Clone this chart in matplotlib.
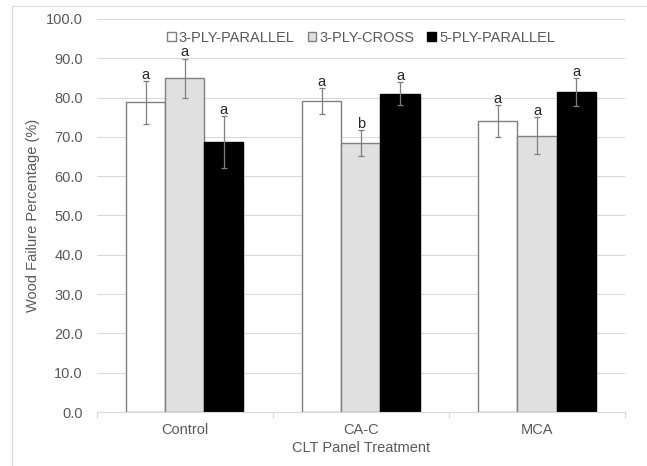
import numpy as np
import matplotlib.pyplot as plt
from matplotlib.lines import Line2D

plt.rcParams['font.family'] = ['Liberation Sans', 'DejaVu Sans']

# data
treatments = ['Control', 'CA-C', 'MCA']
series = ['3-PLY-PARALLEL', '3-PLY-CROSS', '5-PLY-PARALLEL']
ply3_parallel = [78.8, 79.1, 74.1]
ply3_cross = [84.9, 68.4, 70.3]
ply5_parallel = [68.7, 81.0, 81.4]
err_ply3_parallel = [5.4, 3.3, 4.0]
err_ply3_cross = [5.0, 3.3, 4.7]
err_ply5_parallel = [6.6, 2.9, 3.6]
letters_ply3_parallel = ['a', 'a', 'a']
letters_ply3_cross = ['a', 'b', 'a']
letters_ply5_parallel = ['a', 'a', 'a']

values = [ply3_parallel, ply3_cross, ply5_parallel]
errors = [err_ply3_parallel, err_ply3_cross, err_ply5_parallel]
letters = [letters_ply3_parallel, letters_ply3_cross, letters_ply5_parallel]
faces = ['white', '#e0e0e0', 'black']
edges = ['#7f7f7f', '#7f7f7f', 'black']

txt = '#595959'
grid = '#d9d9d9'
fs = 10.5

fig = plt.figure(figsize=(6.47, 4.66), dpi=100)
ax = fig.add_axes([96.7 / 647, 54 / 466, (625 - 96.7) / 647, (412 - 19) / 466])

x = np.arange(len(treatments))
w = 1 / 4.5
for i in range(3):
    pos = x + (i - 1) * w
    ax.bar(pos, values[i], w, color=faces[i], edgecolor=edges[i], linewidth=1, zorder=2,
           label=series[i])
    ax.errorbar(pos, values[i], yerr=errors[i], fmt='none', ecolor='#7f7f7f',
                elinewidth=0.9, capsize=2, capthick=0.9, zorder=3)
    for p, v, e, l in zip(pos, values[i], errors[i], letters[i]):
        ax.text(p, v + e + 0.6, l, ha='center', va='baseline', fontsize=fs, color='#262626')

ax.set_xlim(-0.5, 2.5)
ax.set_ylim(0, 100)
ax.set_yticks(np.arange(0, 101, 10))
ax.set_yticklabels(['%.1f' % t for t in np.arange(0, 101, 10)])
ax.yaxis.grid(True, color=grid, linewidth=0.8, zorder=0)
ax.set_axisbelow(True)

ax.set_xticks(x)
ax.set_xticklabels(treatments)
ax.set_xticks([-0.5, 0.5, 1.5, 2.5], minor=True)
ax.tick_params(axis='x', which='major', length=0, pad=8, labelsize=fs, labelcolor=txt)
ax.tick_params(axis='x', which='minor', length=4, color=grid, width=0.8)
ax.tick_params(axis='y', length=0, pad=10, labelsize=fs, labelcolor=txt)

for s in ['top', 'right', 'left']:
    ax.spines[s].set_visible(False)
ax.spines['bottom'].set_color(grid)
ax.spines['bottom'].set_linewidth(0.8)

ax.set_xlabel('CLT Panel Treatment', fontsize=fs, color=txt, labelpad=3)
ax.set_ylabel('Wood Failure Percentage (%)', fontsize=fs, color=txt, labelpad=4)

leg = ax.legend(loc='upper center', bbox_to_anchor=(0.5, 1.0), ncol=3, frameon=False,
                fontsize=fs, handlelength=0.6, handleheight=0.6, handletextpad=0.2,
                columnspacing=0.9, borderaxespad=0.4)
for t in leg.get_texts():
    t.set_color(txt)

# light chart border like the Excel chart area
fig.add_artist(Line2D([12 / 647, 12 / 647], [0, 1 - 6 / 466], color=grid, linewidth=0.8))
fig.add_artist(Line2D([12 / 647, 1], [1 - 6 / 466, 1 - 6 / 466], color=grid, linewidth=0.8))

fig.savefig('out.png', dpi=100)
